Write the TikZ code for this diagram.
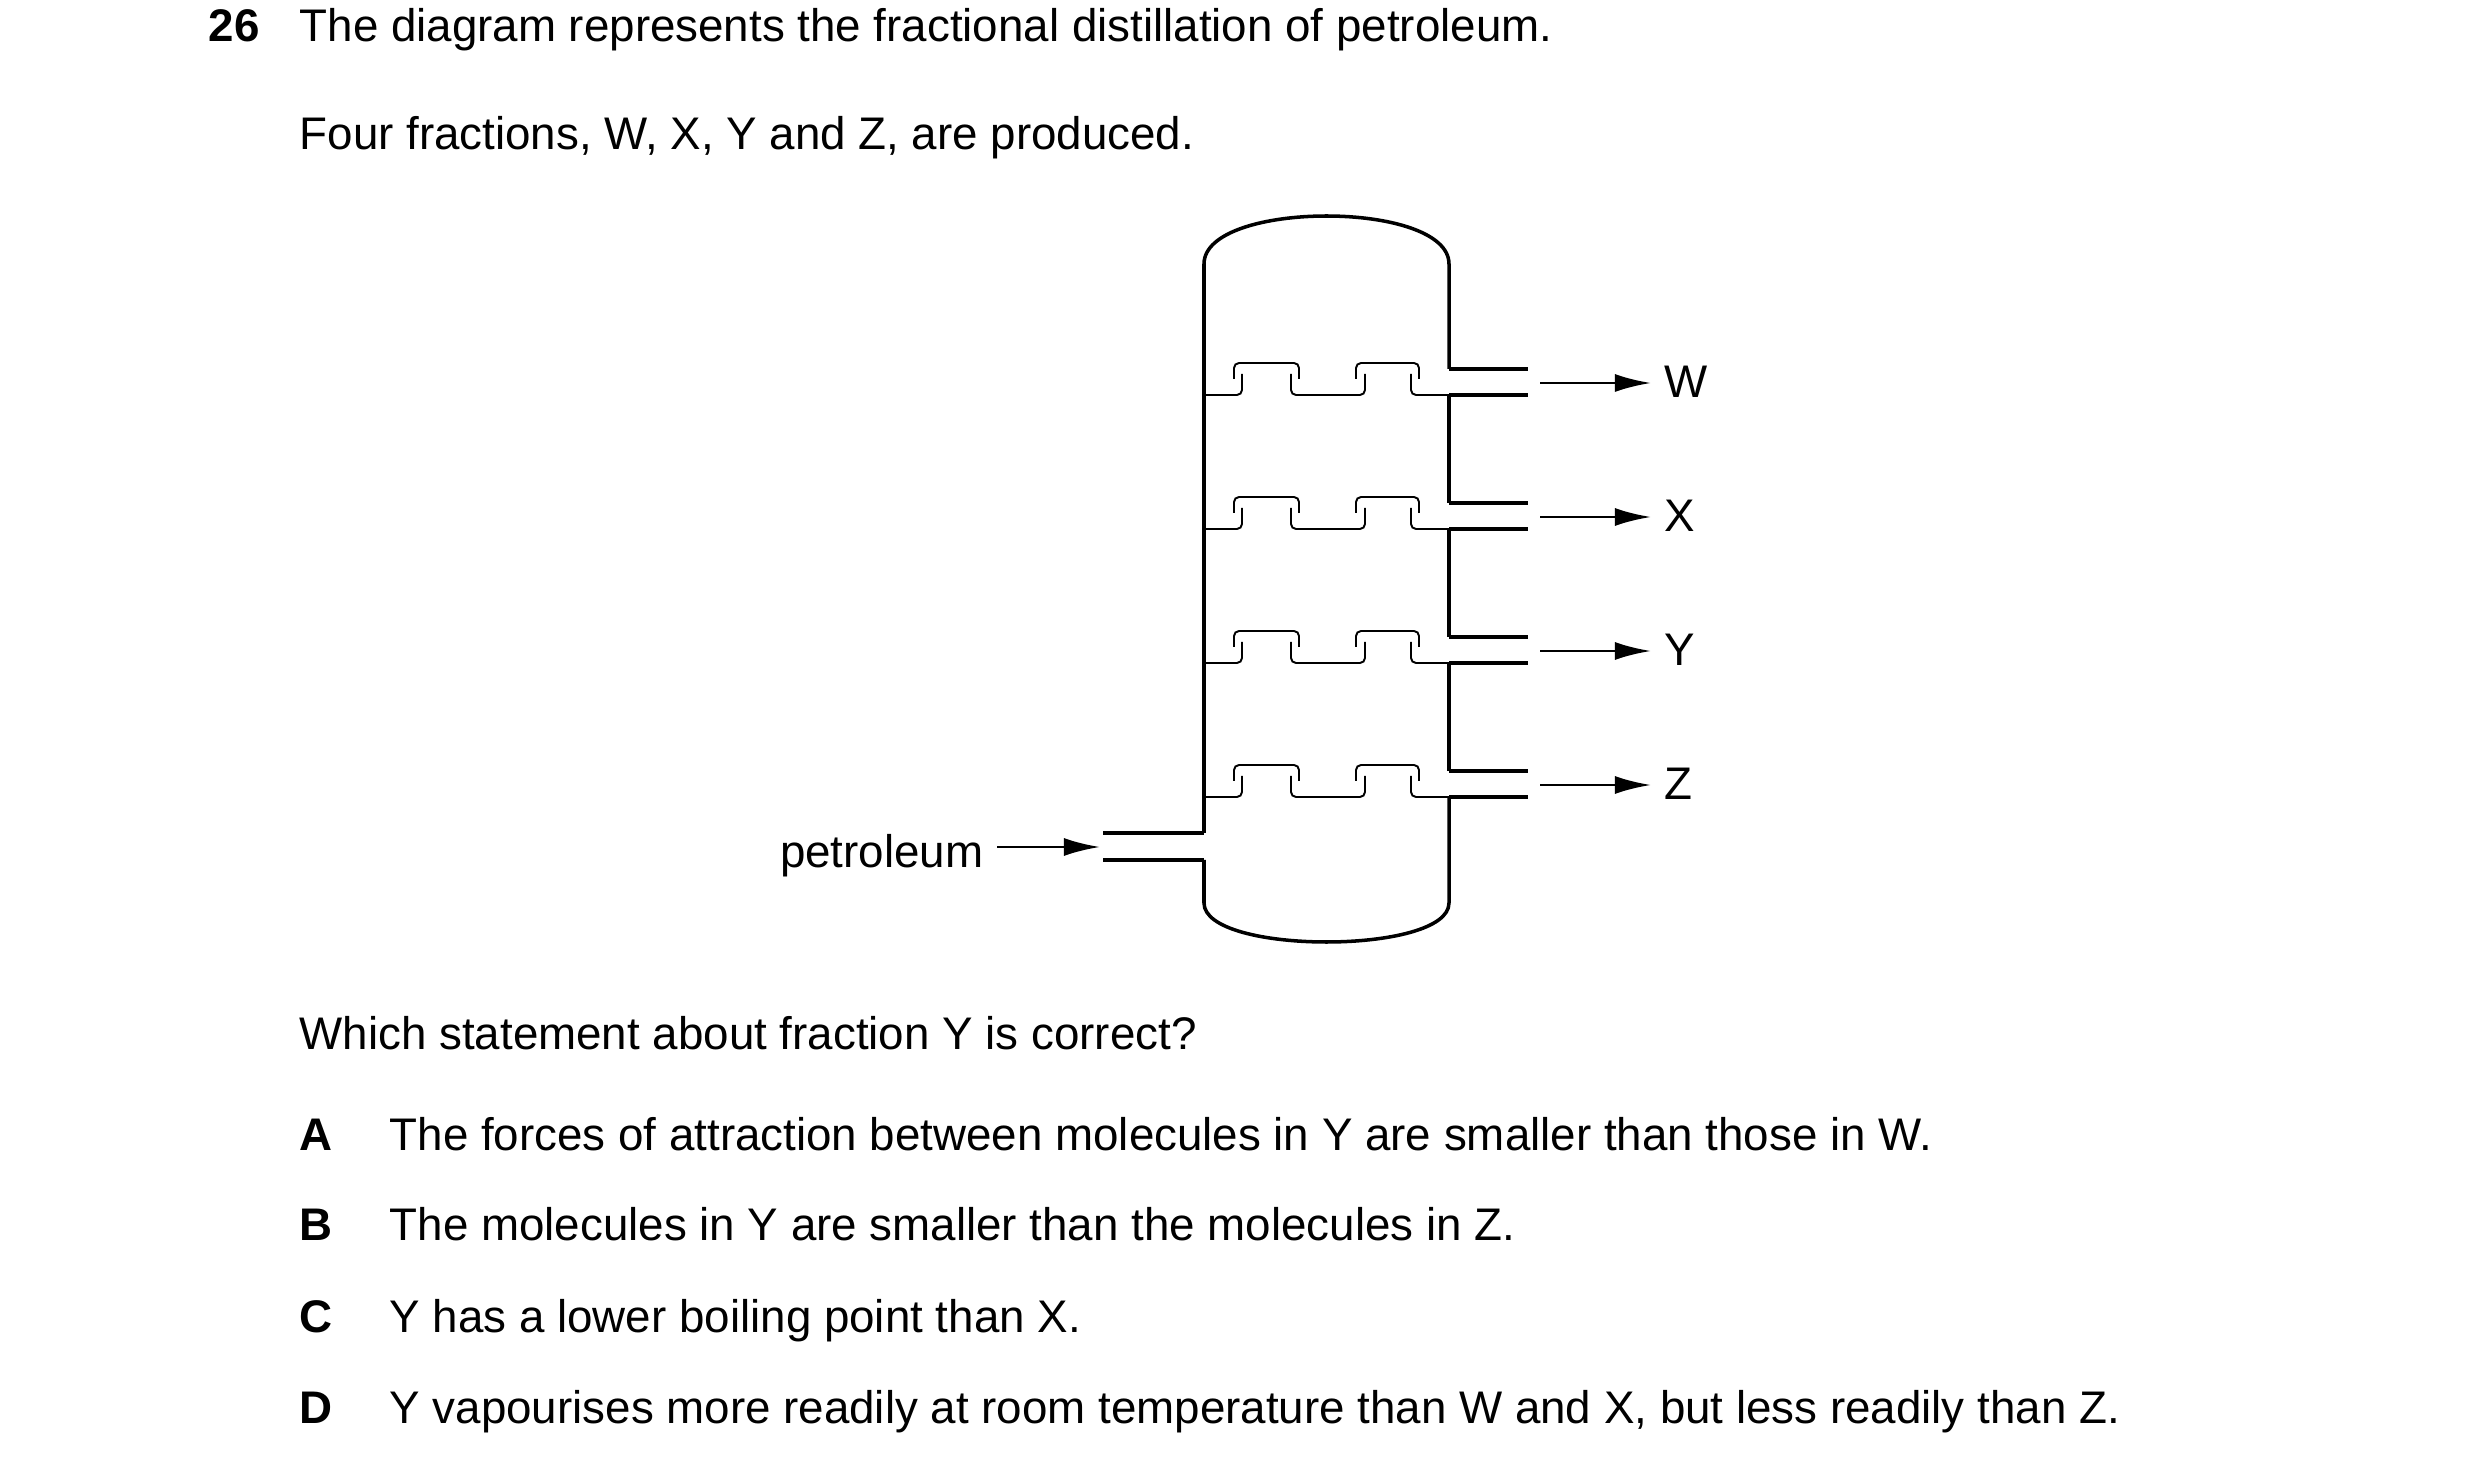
\documentclass[tikz,border=0pt]{standalone}
\usepackage{fontspec}
\setmainfont{Liberation Sans}
\usetikzlibrary{arrows.meta}
\begin{document}
\begin{tikzpicture}[x=0.01cm,y=-0.01cm,
  txt/.style={anchor=base west,inner sep=0pt,font=\fontsize{13}{15}\selectfont},
  wall/.style={line width=1pt},
  tray/.style={line width=0.55pt,rounded corners=0.05cm},
  arr/.style={line width=0.8pt,-{Latex[length=0.36cm,width=0.18cm]}}]
\useasboundingbox (0,0) rectangle (2480,1461);
\node[txt,font=\fontsize{13}{15}\selectfont\bfseries] (n) at (208,42) {26};
\node[txt] (t1) at (299,42) {The diagram represents the fractional distillation of petroleum.};
\node[txt] (t2) at (299,150) {Four fractions, W, X, Y and Z, are produced.};
% column
\draw[wall] (1204,833) -- (1204,264) .. controls (1204,200) and (1449,200) .. (1449,264) -- (1449,369);
\draw[wall] (1204,860) -- (1204,903) .. controls (1204,955) and (1449,955) .. (1449,903) -- (1449,797);
\foreach \y/\l [count=\i] in {395/W,529/X,663/Y,797/Z}{
  \draw[tray] (1204,\y) -- (1242,\y) -- (1242,\y-21);
  \draw[tray] (1291,\y-21) -- (1291,\y) -- (1365,\y) -- (1365,\y-21);
  \draw[tray] (1411,\y-21) -- (1411,\y) -- (1449,\y);
  \draw[tray] (1234,\y-16) -- (1234,\y-32) -- (1299,\y-32) -- (1299,\y-16);
  \draw[tray] (1356,\y-16) -- (1356,\y-32) -- (1419,\y-32) -- (1419,\y-16);
  \draw[wall] (1449,\y-26) -- (1528,\y-26);
  \draw[wall] (1449,\y) -- (1528,\y);
  \coordinate (s\i) at (1540,\y-12);
  \node[anchor=west,inner sep=0pt,font=\fontsize{13}{15}\selectfont] (L\i) at (1664,\y-13) {\l};
  \draw[arr] (s\i) -- (1651,\y-12);
}
\foreach \i in {1,2,3}{
  \pgfmathtruncatemacro{\a}{395+134*(\i-1)}
  \draw[wall] (1449,\a) -- (1449,\a+134-26);
}
% inlet
\draw[wall] (1103,833) -- (1204,833);
\draw[wall] (1103,860) -- (1204,860);
\node[txt,anchor=base east] (pet) at (984,868) {petroleum};
\coordinate (pa) at (997,847);
\coordinate (pb) at (1100,847);
\draw[arr] (pa) -- (pb);
% questions
\node[txt] (q) at (299,1050) {Which statement about fraction Y is correct?};
\foreach \y/\k/\s in {1150/A/The forces of attraction between molecules in Y are smaller than those in W.,
  1241/B/The molecules in Y are smaller than the molecules in Z.,
  1332/C/Y has a lower boiling point than X.,
  1423/D/{Y vapourises more readily at room temperature than W and X, but less readily than Z.}}{
  \node[txt,font=\fontsize{13}{15}\selectfont\bfseries] (k\k) at (299,\y) {\k};
  \node[txt] (s\k) at (389,\y) {\s};
}
\end{tikzpicture}
\end{document}
